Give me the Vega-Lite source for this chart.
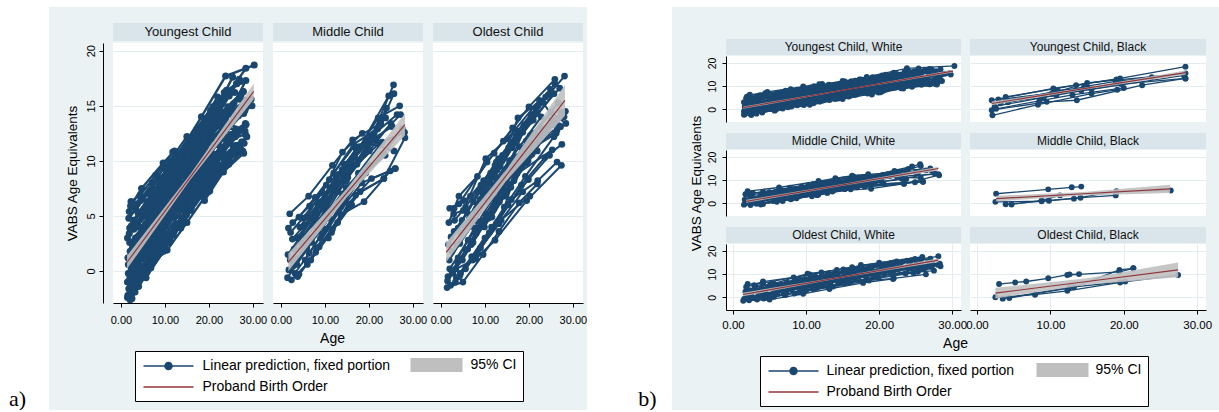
{
"$schema":"https://vega.github.io/schema/vega-lite/v6.json",
"background":"#eaf2f3",
"padding":0,
"spacing":0,
"config":{"font":"Liberation Sans","view":{"stroke":null},
 "axis":{"domainColor":"#000","tickColor":"#000","labelColor":"#000","titleColor":"#000","titleFontWeight":"normal","gridColor":"#e3ecee","labelFont":"Liberation Sans","titleFont":"Liberation Sans"},
 "text":{"font":"Liberation Sans"}},
"datasets":{
"leg":[{"k":"Linear prediction, fixed portion"},{"k":"95% CI"},{"k":"Proband Birth Order"}],
"fit":[
{"g":"Y","a":1.4,"v":0.8,"lo":0.2,"hi":1.4},{"g":"Y","a":15.8,"v":8.55,"lo":8.3,"hi":8.8},{"g":"Y","a":30.2,"v":16.3,"lo":15.6,"hi":17.0},
{"g":"M","a":1.7,"v":0.8,"lo":0.0,"hi":1.6},{"g":"M","a":15.0,"v":7.1,"lo":6.7,"hi":7.5},{"g":"M","a":28.2,"v":13.3,"lo":12.3,"hi":14.3},
{"g":"O","a":1.2,"v":1.7,"lo":0.8,"hi":2.6},{"g":"O","a":14.7,"v":8.6,"lo":8.1,"hi":9.1},{"g":"O","a":28.2,"v":15.5,"lo":14.1,"hi":16.9},
{"g":"YW","a":1.4,"v":0.7,"lo":0.2,"hi":1.2},{"g":"YW","a":15.7,"v":8.6,"lo":8.4,"hi":8.8},{"g":"YW","a":30.1,"v":16.5,"lo":15.9,"hi":17.1},
{"g":"YB","a":2.0,"v":2.5,"lo":1.7,"hi":3.3},{"g":"YB","a":15.2,"v":9.2,"lo":8.8,"hi":9.6},{"g":"YB","a":28.4,"v":15.8,"lo":14.9,"hi":16.7},
{"g":"MW","a":1.8,"v":0.85,"lo":0.2,"hi":1.5},{"g":"MW","a":15.0,"v":7.95,"lo":7.6,"hi":8.3},{"g":"MW","a":28.1,"v":15.0,"lo":14.2,"hi":15.8},
{"g":"MB","a":2.6,"v":2.0,"lo":0.8,"hi":3.2},{"g":"MB","a":14.5,"v":4.1,"lo":3.3,"hi":4.9},{"g":"MB","a":26.3,"v":6.2,"lo":4.4,"hi":8.0},
{"g":"OW","a":1.35,"v":1.2,"lo":0.4,"hi":2.0},{"g":"OW","a":14.7,"v":8.6,"lo":8.3,"hi":8.9},{"g":"OW","a":28.1,"v":16.0,"lo":15.2,"hi":16.8},
{"g":"OB","a":2.5,"v":1.8,"lo":-0.5,"hi":4.1},{"g":"OB","a":15.0,"v":6.8,"lo":5.4,"hi":8.2},{"g":"OB","a":27.4,"v":11.8,"lo":8.6,"hi":15.0}
],
"kids":[
{"g":"YW","i":1,"a":1.5,"v":-2.4},{"g":"YW","i":1,"a":5.2,"v":0.1},{"g":"YW","i":1,"a":9.8,"v":2.6},{"g":"YW","i":1,"a":14.1,"v":4.9},
{"g":"YW","i":2,"a":1.8,"v":-1.6},{"g":"YW","i":2,"a":4.6,"v":0.4},{"g":"YW","i":2,"a":8.9,"v":3.0},{"g":"YW","i":2,"a":13.5,"v":5.8},{"g":"YW","i":2,"a":18.2,"v":8.1},
{"g":"YW","i":3,"a":2.0,"v":-0.8},{"g":"YW","i":3,"a":6.1,"v":2.1},{"g":"YW","i":3,"a":10.4,"v":4.6},{"g":"YW","i":3,"a":15.2,"v":7.3},{"g":"YW","i":3,"a":20.1,"v":9.6},
{"g":"YW","i":4,"a":2.3,"v":0.3},{"g":"YW","i":4,"a":5.8,"v":2.9},{"g":"YW","i":4,"a":11.0,"v":6.1},{"g":"YW","i":4,"a":16.4,"v":9.2},{"g":"YW","i":4,"a":21.7,"v":11.8},
{"g":"YW","i":5,"a":1.6,"v":1.2},{"g":"YW","i":5,"a":4.9,"v":3.5},{"g":"YW","i":5,"a":9.1,"v":6.0},{"g":"YW","i":5,"a":13.8,"v":8.7},
{"g":"YW","i":6,"a":2.6,"v":2.1},{"g":"YW","i":6,"a":7.4,"v":5.0},{"g":"YW","i":6,"a":12.9,"v":8.4},{"g":"YW","i":6,"a":18.3,"v":11.3},{"g":"YW","i":6,"a":24.0,"v":14.2},
{"g":"YW","i":7,"a":1.9,"v":3.4},{"g":"YW","i":7,"a":5.5,"v":5.6},{"g":"YW","i":7,"a":10.2,"v":8.6},{"g":"YW","i":7,"a":15.6,"v":11.5},
{"g":"YW","i":8,"a":2.8,"v":4.6},{"g":"YW","i":8,"a":6.9,"v":6.9},{"g":"YW","i":8,"a":12.1,"v":10.2},{"g":"YW","i":8,"a":17.5,"v":12.9},{"g":"YW","i":8,"a":22.0,"v":15.8},
{"g":"YW","i":9,"a":2.2,"v":5.9},{"g":"YW","i":9,"a":4.7,"v":7.5},{"g":"YW","i":9,"a":9.6,"v":9.8},{"g":"YW","i":9,"a":12.2,"v":10.9},
{"g":"YW","i":10,"a":3.1,"v":-1.2},{"g":"YW","i":10,"a":7.8,"v":1.6},{"g":"YW","i":10,"a":12.6,"v":4.3},{"g":"YW","i":10,"a":17.9,"v":7.2},{"g":"YW","i":10,"a":23.5,"v":10.2},
{"g":"YW","i":11,"a":4.2,"v":-0.3},{"g":"YW","i":11,"a":9.3,"v":2.9},{"g":"YW","i":11,"a":14.8,"v":6.0},{"g":"YW","i":11,"a":20.7,"v":8.9},{"g":"YW","i":11,"a":26.9,"v":10.8},
{"g":"YW","i":12,"a":3.5,"v":1.5},{"g":"YW","i":12,"a":8.2,"v":4.3},{"g":"YW","i":12,"a":13.4,"v":7.6},{"g":"YW","i":12,"a":19.0,"v":10.6},{"g":"YW","i":12,"a":25.0,"v":12.4},
{"g":"YW","i":13,"a":4.8,"v":3.0},{"g":"YW","i":13,"a":9.9,"v":6.2},{"g":"YW","i":13,"a":15.1,"v":9.6},{"g":"YW","i":13,"a":20.6,"v":12.5},{"g":"YW","i":13,"a":25.7,"v":15.2},
{"g":"YW","i":14,"a":5.5,"v":5.0},{"g":"YW","i":14,"a":10.7,"v":8.3},{"g":"YW","i":14,"a":16.0,"v":11.7},{"g":"YW","i":14,"a":21.2,"v":14.3},{"g":"YW","i":14,"a":25.4,"v":17.6},
{"g":"YW","i":15,"a":3.9,"v":2.5},{"g":"YW","i":15,"a":8.6,"v":5.4},{"g":"YW","i":15,"a":13.0,"v":8.0},{"g":"YW","i":15,"a":18.8,"v":11.9},{"g":"YW","i":15,"a":23.1,"v":13.6},{"g":"YW","i":15,"a":28.2,"v":12.7},
{"g":"YW","i":16,"a":6.3,"v":1.4},{"g":"YW","i":16,"a":11.5,"v":4.9},{"g":"YW","i":16,"a":16.9,"v":8.3},{"g":"YW","i":16,"a":22.6,"v":11.3},{"g":"YW","i":16,"a":27.5,"v":11.7},
{"g":"YW","i":17,"a":7.2,"v":3.1},{"g":"YW","i":17,"a":12.4,"v":6.5},{"g":"YW","i":17,"a":17.2,"v":9.9},{"g":"YW","i":17,"a":22.9,"v":13.0},{"g":"YW","i":17,"a":28.4,"v":17.3},
{"g":"YW","i":18,"a":8.0,"v":1.2},{"g":"YW","i":18,"a":13.2,"v":4.0},{"g":"YW","i":18,"a":18.6,"v":7.4},{"g":"YW","i":18,"a":24.8,"v":11.7},
{"g":"YW","i":19,"a":2.4,"v":-2.0},{"g":"YW","i":19,"a":6.6,"v":0.5},{"g":"YW","i":19,"a":11.8,"v":3.4},{"g":"YW","i":19,"a":16.6,"v":6.2},
{"g":"YW","i":20,"a":1.7,"v":0.6},{"g":"YW","i":20,"a":3.8,"v":1.9},{"g":"YW","i":20,"a":8.4,"v":4.7},{"g":"YW","i":20,"a":12.8,"v":7.3},{"g":"YW","i":20,"a":17.6,"v":10.0},
{"g":"YW","i":21,"a":2.9,"v":3.8},{"g":"YW","i":21,"a":6.2,"v":5.9},{"g":"YW","i":21,"a":11.3,"v":9.0},{"g":"YW","i":21,"a":16.2,"v":12.1},{"g":"YW","i":21,"a":20.4,"v":14.6},{"g":"YW","i":21,"a":26.3,"v":17.0},
{"g":"YW","i":22,"a":5.1,"v":4.0},{"g":"YW","i":22,"a":9.4,"v":6.8},{"g":"YW","i":22,"a":14.5,"v":10.0},{"g":"YW","i":22,"a":19.6,"v":13.0},{"g":"YW","i":22,"a":24.6,"v":15.9},
{"g":"YW","i":23,"a":9.0,"v":6.6},{"g":"YW","i":23,"a":13.6,"v":9.5},{"g":"YW","i":23,"a":18.1,"v":12.6},{"g":"YW","i":23,"a":22.4,"v":14.9},
{"g":"YW","i":24,"a":10.1,"v":4.1},{"g":"YW","i":24,"a":15.4,"v":7.9},{"g":"YW","i":24,"a":20.3,"v":10.6},{"g":"YW","i":24,"a":25.0,"v":10.8},
{"g":"YW","i":25,"a":11.2,"v":7.3},{"g":"YW","i":25,"a":16.3,"v":10.6},{"g":"YW","i":25,"a":21.5,"v":13.9},{"g":"YW","i":25,"a":27.8,"v":16.3},
{"g":"YW","i":26,"a":12.3,"v":3.8},{"g":"YW","i":26,"a":17.0,"v":7.0},{"g":"YW","i":26,"a":22.1,"v":9.6},{"g":"YW","i":26,"a":26.9,"v":10.8},
{"g":"YW","i":27,"a":4.5,"v":6.4},{"g":"YW","i":27,"a":8.8,"v":8.4},{"g":"YW","i":27,"a":13.1,"v":10.6},{"g":"YW","i":27,"a":17.3,"v":12.9},
{"g":"YW","i":28,"a":6.8,"v":6.8},{"g":"YW","i":28,"a":12.0,"v":9.9},{"g":"YW","i":28,"a":18.3,"v":14.0},{"g":"YW","i":28,"a":23.8,"v":17.7},{"g":"YW","i":28,"a":30.3,"v":18.7},
{"g":"YW","i":29,"a":14.0,"v":5.6},{"g":"YW","i":29,"a":19.8,"v":8.8},{"g":"YW","i":29,"a":25.2,"v":12.0},{"g":"YW","i":29,"a":28.3,"v":12.4},
{"g":"YW","i":30,"a":13.9,"v":10.4},{"g":"YW","i":30,"a":18.9,"v":12.8},{"g":"YW","i":30,"a":24.3,"v":14.9},{"g":"YW","i":30,"a":27.8,"v":16.3},
{"g":"YW","i":31,"a":15.8,"v":6.6},{"g":"YW","i":31,"a":21.0,"v":9.9},{"g":"YW","i":31,"a":27.5,"v":11.7},
{"g":"YW","i":32,"a":16.5,"v":11.3},{"g":"YW","i":32,"a":21.9,"v":14.1},{"g":"YW","i":32,"a":26.3,"v":17.0},
{"g":"YW","i":33,"a":1.5,"v":-1.0},{"g":"YW","i":33,"a":3.3,"v":0.5},{"g":"YW","i":33,"a":6.0,"v":1.8},{"g":"YW","i":33,"a":10.6,"v":4.4},
{"g":"YW","i":34,"a":2.1,"v":1.8},{"g":"YW","i":34,"a":4.4,"v":2.8},{"g":"YW","i":34,"a":7.0,"v":4.4},{"g":"YW","i":34,"a":11.6,"v":7.1},{"g":"YW","i":34,"a":16.8,"v":10.5},
{"g":"YW","i":35,"a":3.0,"v":0.0},{"g":"YW","i":35,"a":5.0,"v":1.4},{"g":"YW","i":35,"a":9.5,"v":4.0},{"g":"YW","i":35,"a":14.3,"v":6.9},{"g":"YW","i":35,"a":19.3,"v":8.5},
{"g":"YW","i":36,"a":2.5,"v":-2.5},{"g":"YW","i":36,"a":4.0,"v":-1.4},{"g":"YW","i":36,"a":7.5,"v":0.9},{"g":"YW","i":36,"a":11.9,"v":3.3},
{"g":"YW","i":37,"a":7.6,"v":4.8},{"g":"YW","i":37,"a":12.7,"v":7.9},{"g":"YW","i":37,"a":17.8,"v":10.8},{"g":"YW","i":37,"a":23.6,"v":13.0},{"g":"YW","i":37,"a":28.0,"v":12.7},
{"g":"YW","i":38,"a":8.6,"v":2.3},{"g":"YW","i":38,"a":14.2,"v":5.8},{"g":"YW","i":38,"a":19.4,"v":9.3},{"g":"YW","i":38,"a":24.1,"v":11.7},
{"g":"YW","i":39,"a":10.5,"v":5.6},{"g":"YW","i":39,"a":15.0,"v":8.8},{"g":"YW","i":39,"a":20.0,"v":12.0},{"g":"YW","i":39,"a":25.5,"v":14.6},
{"g":"YW","i":40,"a":18.0,"v":9.3},{"g":"YW","i":40,"a":22.7,"v":12.0},{"g":"YW","i":40,"a":28.3,"v":13.4},
{"g":"YW","i":41,"a":20.2,"v":7.3},{"g":"YW","i":41,"a":24.5,"v":10.1},{"g":"YW","i":41,"a":27.2,"v":11.1},
{"g":"YW","i":42,"a":3.6,"v":4.0},{"g":"YW","i":42,"a":7.1,"v":6.0},{"g":"YW","i":42,"a":11.4,"v":8.9},{"g":"YW","i":42,"a":15.9,"v":11.0},{"g":"YW","i":42,"a":21.3,"v":13.3},
{"g":"YW","i":43,"a":5.9,"v":-0.1},{"g":"YW","i":43,"a":10.0,"v":2.6},{"g":"YW","i":43,"a":14.6,"v":5.2},{"g":"YW","i":43,"a":19.7,"v":8.0},{"g":"YW","i":43,"a":25.5,"v":11.3},
{"g":"YW","i":44,"a":1.8,"v":4.8},{"g":"YW","i":44,"a":3.4,"v":5.6},{"g":"YW","i":44,"a":6.5,"v":7.2},{"g":"YW","i":44,"a":9.7,"v":9.4},
{"g":"YW","i":45,"a":12.8,"v":9.4},{"g":"YW","i":45,"a":17.4,"v":12.6},{"g":"YW","i":45,"a":22.4,"v":15.2},{"g":"YW","i":45,"a":25.9,"v":16.2},
{"g":"YW","i":46,"a":2.7,"v":-0.4},{"g":"YW","i":46,"a":5.4,"v":1.5},{"g":"YW","i":46,"a":10.9,"v":5.0},{"g":"YW","i":46,"a":15.5,"v":7.6},{"g":"YW","i":46,"a":21.1,"v":10.6},{"g":"YW","i":46,"a":26.6,"v":12.6},
{"g":"YW","i":47,"a":3.3,"v":3.0},{"g":"YW","i":47,"a":8.0,"v":6.2},{"g":"YW","i":47,"a":12.5,"v":8.9},{"g":"YW","i":47,"a":19.3,"v":12.5},{"g":"YW","i":47,"a":24.9,"v":14.6},
{"g":"YW","i":48,"a":4.6,"v":1.1},{"g":"YW","i":48,"a":8.5,"v":3.3},{"g":"YW","i":48,"a":13.7,"v":6.4},{"g":"YW","i":48,"a":18.9,"v":9.3},{"g":"YW","i":48,"a":26.1,"v":12.9},
{"g":"YW","i":49,"a":6.0,"v":3.3},{"g":"YW","i":49,"a":10.3,"v":6.9},{"g":"YW","i":49,"a":15.3,"v":10.2},{"g":"YW","i":49,"a":20.8,"v":13.6},{"g":"YW","i":49,"a":27.0,"v":15.6},
{"g":"YW","i":50,"a":9.4,"v":2.2},{"g":"YW","i":50,"a":14.9,"v":5.1},{"g":"YW","i":50,"a":20.5,"v":7.9},{"g":"YW","i":50,"a":25.8,"v":10.6},
{"g":"YW","i":112,"a":1.6,"v":-2.2},{"g":"YW","i":112,"a":3.9,"v":-0.6},{"g":"YW","i":112,"a":8.1,"v":1.9},{"g":"YW","i":112,"a":12.2,"v":4.0},{"g":"YW","i":112,"a":16.9,"v":6.4},
{"g":"YW","i":113,"a":2.0,"v":2.6},{"g":"YW","i":113,"a":5.6,"v":4.3},{"g":"YW","i":113,"a":10.0,"v":7.0},{"g":"YW","i":113,"a":14.6,"v":9.8},{"g":"YW","i":113,"a":19.9,"v":12.8},{"g":"YW","i":113,"a":25.1,"v":14.2},
{"g":"YW","i":114,"a":2.4,"v":4.1},{"g":"YW","i":114,"a":6.0,"v":6.3},{"g":"YW","i":114,"a":10.6,"v":9.4},{"g":"YW","i":114,"a":15.3,"v":12.0},{"g":"YW","i":114,"a":20.9,"v":14.9},
{"g":"YW","i":115,"a":3.2,"v":-1.9},{"g":"YW","i":115,"a":6.8,"v":0.3},{"g":"YW","i":115,"a":11.1,"v":2.9},{"g":"YW","i":115,"a":15.9,"v":5.6},{"g":"YW","i":115,"a":20.6,"v":8.4},{"g":"YW","i":115,"a":26.2,"v":11.4},
{"g":"YW","i":116,"a":3.6,"v":0.7},{"g":"YW","i":116,"a":7.3,"v":3.2},{"g":"YW","i":116,"a":12.0,"v":6.0},{"g":"YW","i":116,"a":17.1,"v":9.0},{"g":"YW","i":116,"a":22.3,"v":12.1},{"g":"YW","i":116,"a":27.9,"v":14.3},
{"g":"YW","i":117,"a":4.1,"v":5.2},{"g":"YW","i":117,"a":7.7,"v":7.4},{"g":"YW","i":117,"a":12.3,"v":10.1},{"g":"YW","i":117,"a":16.7,"v":12.3},{"g":"YW","i":117,"a":21.8,"v":15.1},{"g":"YW","i":117,"a":26.9,"v":17.4},
{"g":"YW","i":118,"a":5.0,"v":2.0},{"g":"YW","i":118,"a":9.0,"v":4.7},{"g":"YW","i":118,"a":13.3,"v":7.3},{"g":"YW","i":118,"a":18.0,"v":10.0},{"g":"YW","i":118,"a":23.2,"v":12.7},{"g":"YW","i":118,"a":28.6,"v":15.1},
{"g":"YW","i":119,"a":5.7,"v":-0.6},{"g":"YW","i":119,"a":9.7,"v":1.8},{"g":"YW","i":119,"a":14.0,"v":4.4},{"g":"YW","i":119,"a":18.4,"v":6.8},{"g":"YW","i":119,"a":23.0,"v":9.1},{"g":"YW","i":119,"a":27.7,"v":10.9},
{"g":"YW","i":120,"a":6.4,"v":5.4},{"g":"YW","i":120,"a":10.8,"v":8.1},{"g":"YW","i":120,"a":15.7,"v":11.0},{"g":"YW","i":120,"a":20.0,"v":13.5},{"g":"YW","i":120,"a":24.8,"v":16.3},
{"g":"YW","i":121,"a":7.0,"v":2.0},{"g":"YW","i":121,"a":11.7,"v":5.3},{"g":"YW","i":121,"a":16.5,"v":8.0},{"g":"YW","i":121,"a":21.3,"v":10.3},{"g":"YW","i":121,"a":26.0,"v":12.2},
{"g":"YW","i":122,"a":8.3,"v":5.9},{"g":"YW","i":122,"a":12.9,"v":8.8},{"g":"YW","i":122,"a":17.7,"v":11.7},{"g":"YW","i":122,"a":22.5,"v":14.0},{"g":"YW","i":122,"a":27.3,"v":16.0},
{"g":"YW","i":123,"a":9.2,"v":3.6},{"g":"YW","i":123,"a":13.9,"v":6.6},{"g":"YW","i":123,"a":18.7,"v":9.8},{"g":"YW","i":123,"a":23.9,"v":12.9},{"g":"YW","i":123,"a":29.0,"v":15.3},
{"g":"YW","i":124,"a":10.4,"v":7.9},{"g":"YW","i":124,"a":14.7,"v":10.8},{"g":"YW","i":124,"a":19.1,"v":13.8},{"g":"YW","i":124,"a":23.5,"v":16.2},
{"g":"YW","i":125,"a":11.0,"v":2.6},{"g":"YW","i":125,"a":15.8,"v":5.5},{"g":"YW","i":125,"a":20.9,"v":8.4},{"g":"YW","i":125,"a":26.4,"v":11.0},
{"g":"YW","i":126,"a":11.9,"v":6.3},{"g":"YW","i":126,"a":16.1,"v":9.2},{"g":"YW","i":126,"a":21.0,"v":12.2},{"g":"YW","i":126,"a":25.6,"v":13.9},{"g":"YW","i":126,"a":29.6,"v":15.6},
{"g":"YW","i":127,"a":13.3,"v":7.0},{"g":"YW","i":127,"a":17.6,"v":9.6},{"g":"YW","i":127,"a":22.8,"v":12.5},{"g":"YW","i":127,"a":27.4,"v":14.8},
{"g":"YW","i":128,"a":14.4,"v":4.6},{"g":"YW","i":128,"a":18.9,"v":7.3},{"g":"YW","i":128,"a":23.7,"v":10.0},{"g":"YW","i":128,"a":28.0,"v":11.6},
{"g":"YW","i":129,"a":15.1,"v":10.9},{"g":"YW","i":129,"a":19.5,"v":13.6},{"g":"YW","i":129,"a":24.0,"v":16.4},{"g":"YW","i":129,"a":27.2,"v":17.2},
{"g":"YW","i":130,"a":17.0,"v":8.2},{"g":"YW","i":130,"a":21.7,"v":11.5},{"g":"YW","i":130,"a":26.7,"v":14.1},{"g":"YW","i":130,"a":29.8,"v":15.0},
{"g":"YW","i":131,"a":19.0,"v":6.4},{"g":"YW","i":131,"a":23.3,"v":9.0},{"g":"YW","i":131,"a":27.9,"v":10.7},
{"g":"YW","i":132,"a":1.5,"v":3.0},{"g":"YW","i":132,"a":3.0,"v":3.9},{"g":"YW","i":132,"a":5.9,"v":5.5},{"g":"YW","i":132,"a":9.3,"v":7.8},{"g":"YW","i":132,"a":13.4,"v":10.3},
{"g":"YW","i":133,"a":1.7,"v":-0.2},{"g":"YW","i":133,"a":3.5,"v":0.9},{"g":"YW","i":133,"a":6.4,"v":3.0},{"g":"YW","i":133,"a":10.1,"v":5.2},{"g":"YW","i":133,"a":14.4,"v":7.9},
{"g":"YW","i":134,"a":2.2,"v":-1.3},{"g":"YW","i":134,"a":4.3,"v":0.0},{"g":"YW","i":134,"a":7.9,"v":2.3},{"g":"YW","i":134,"a":12.1,"v":5.0},{"g":"YW","i":134,"a":16.2,"v":7.3},{"g":"YW","i":134,"a":21.5,"v":10.3},
{"g":"YW","i":135,"a":2.6,"v":0.9},{"g":"YW","i":135,"a":4.8,"v":2.3},{"g":"YW","i":135,"a":8.3,"v":4.9},{"g":"YW","i":135,"a":12.4,"v":7.6},{"g":"YW","i":135,"a":16.0,"v":9.6},
{"g":"YW","i":136,"a":3.0,"v":1.9},{"g":"YW","i":136,"a":6.3,"v":4.0},{"g":"YW","i":136,"a":9.9,"v":6.4},{"g":"YW","i":136,"a":14.2,"v":9.1},{"g":"YW","i":136,"a":18.6,"v":11.6},{"g":"YW","i":136,"a":23.4,"v":14.4},
{"g":"YW","i":137,"a":4.0,"v":-1.0},{"g":"YW","i":137,"a":8.8,"v":1.7},{"g":"YW","i":137,"a":13.8,"v":4.8},{"g":"YW","i":137,"a":19.1,"v":7.8},
{"g":"YW","i":138,"a":1.9,"v":5.4},{"g":"YW","i":138,"a":3.7,"v":6.1},{"g":"YW","i":138,"a":7.2,"v":8.0},{"g":"YW","i":138,"a":11.1,"v":10.0},{"g":"YW","i":138,"a":15.0,"v":12.2},
{"g":"YW","i":139,"a":2.3,"v":6.3},{"g":"YW","i":139,"a":4.4,"v":6.9},{"g":"YW","i":139,"a":7.9,"v":8.7},{"g":"YW","i":139,"a":11.8,"v":10.8},
{"g":"YW","i":140,"a":6.6,"v":0.5},{"g":"YW","i":140,"a":10.5,"v":1.9},{"g":"YW","i":140,"a":15.0,"v":4.4},{"g":"YW","i":140,"a":19.9,"v":7.2},{"g":"YW","i":140,"a":24.5,"v":9.7},
{"g":"YW","i":141,"a":16.0,"v":5.8},{"g":"YW","i":141,"a":20.1,"v":8.0},{"g":"YW","i":141,"a":24.2,"v":10.3},{"g":"YW","i":141,"a":28.6,"v":12.2},
{"g":"YB","i":51,"a":2.0,"v":3.9},{"g":"YB","i":51,"a":10.4,"v":9.0},{"g":"YB","i":51,"a":19.5,"v":13.3},{"g":"YB","i":51,"a":28.4,"v":18.4},
{"g":"YB","i":52,"a":2.9,"v":4.2},{"g":"YB","i":52,"a":10.4,"v":7.1},{"g":"YB","i":52,"a":15.0,"v":11.4},{"g":"YB","i":52,"a":28.4,"v":15.5},
{"g":"YB","i":53,"a":3.9,"v":5.3},{"g":"YB","i":53,"a":13.5,"v":10.4},{"g":"YB","i":53,"a":19.0,"v":12.9},
{"g":"YB","i":54,"a":2.0,"v":-0.4},{"g":"YB","i":54,"a":9.5,"v":3.2},{"g":"YB","i":54,"a":13.6,"v":3.9},{"g":"YB","i":54,"a":22.5,"v":10.4},{"g":"YB","i":54,"a":28.4,"v":13.3},
{"g":"YB","i":55,"a":2.1,"v":-2.6},{"g":"YB","i":55,"a":8.3,"v":2.0},{"g":"YB","i":55,"a":15.6,"v":6.8},{"g":"YB","i":55,"a":19.1,"v":8.4},
{"g":"YB","i":56,"a":3.9,"v":4.2},{"g":"YB","i":56,"a":10.2,"v":6.8},{"g":"YB","i":56,"a":15.6,"v":8.6},{"g":"YB","i":56,"a":28.2,"v":14.6},
{"g":"YB","i":57,"a":2.4,"v":1.2},{"g":"YB","i":57,"a":9.1,"v":5.1},{"g":"YB","i":57,"a":14.2,"v":8.0},{"g":"YB","i":57,"a":19.6,"v":10.9},{"g":"YB","i":57,"a":28.4,"v":13.3},
{"g":"YB","i":58,"a":3.2,"v":2.6},{"g":"YB","i":58,"a":11.0,"v":8.0},{"g":"YB","i":58,"a":15.0,"v":9.6},
{"g":"YB","i":59,"a":2.6,"v":0.2},{"g":"YB","i":59,"a":8.5,"v":3.6},{"g":"YB","i":59,"a":13.0,"v":6.2},{"g":"YB","i":59,"a":20.0,"v":9.2},
{"g":"YB","i":60,"a":4.2,"v":3.0},{"g":"YB","i":60,"a":10.8,"v":6.0},{"g":"YB","i":60,"a":14.6,"v":9.8},{"g":"YB","i":60,"a":18.9,"v":12.0},{"g":"YB","i":60,"a":23.8,"v":13.8},
{"g":"MW","i":61,"a":1.8,"v":0.1},{"g":"MW","i":61,"a":5.6,"v":2.4},{"g":"MW","i":61,"a":10.2,"v":5.0},{"g":"MW","i":61,"a":14.8,"v":7.6},{"g":"MW","i":61,"a":19.5,"v":9.5},
{"g":"MW","i":62,"a":2.0,"v":5.2},{"g":"MW","i":62,"a":6.3,"v":6.8},{"g":"MW","i":62,"a":11.7,"v":9.6},{"g":"MW","i":62,"a":16.3,"v":11.9},{"g":"MW","i":62,"a":22.7,"v":13.4},{"g":"MW","i":62,"a":25.7,"v":16.1},
{"g":"MW","i":63,"a":2.4,"v":-0.8},{"g":"MW","i":63,"a":6.8,"v":1.0},{"g":"MW","i":63,"a":11.5,"v":3.5},{"g":"MW","i":63,"a":16.1,"v":6.0},
{"g":"MW","i":64,"a":3.0,"v":2.0},{"g":"MW","i":64,"a":7.5,"v":4.6},{"g":"MW","i":64,"a":12.1,"v":7.2},{"g":"MW","i":64,"a":18.9,"v":10.6},{"g":"MW","i":64,"a":24.0,"v":14.8},
{"g":"MW","i":65,"a":2.2,"v":3.5},{"g":"MW","i":65,"a":5.0,"v":4.8},{"g":"MW","i":65,"a":9.4,"v":7.1},{"g":"MW","i":65,"a":14.0,"v":10.8},{"g":"MW","i":65,"a":18.5,"v":12.5},
{"g":"MW","i":66,"a":4.1,"v":-0.3},{"g":"MW","i":66,"a":8.7,"v":2.2},{"g":"MW","i":66,"a":13.6,"v":5.1},{"g":"MW","i":66,"a":18.9,"v":6.3},{"g":"MW","i":66,"a":24.9,"v":9.1},
{"g":"MW","i":67,"a":3.4,"v":1.1},{"g":"MW","i":67,"a":9.0,"v":4.2},{"g":"MW","i":67,"a":14.4,"v":9.7},{"g":"MW","i":67,"a":20.5,"v":12.2},{"g":"MW","i":67,"a":26.4,"v":14.2},
{"g":"MW","i":68,"a":5.2,"v":3.2},{"g":"MW","i":68,"a":10.6,"v":6.5},{"g":"MW","i":68,"a":15.9,"v":9.4},{"g":"MW","i":68,"a":21.5,"v":11.9},{"g":"MW","i":68,"a":27.2,"v":14.2},
{"g":"MW","i":69,"a":6.0,"v":0.6},{"g":"MW","i":69,"a":11.7,"v":3.8},{"g":"MW","i":69,"a":17.0,"v":6.9},{"g":"MW","i":69,"a":23.4,"v":8.4},{"g":"MW","i":69,"a":28.2,"v":12.1},
{"g":"MW","i":70,"a":7.2,"v":4.1},{"g":"MW","i":70,"a":12.3,"v":7.5},{"g":"MW","i":70,"a":16.8,"v":10.3},{"g":"MW","i":70,"a":22.7,"v":13.4},
{"g":"MW","i":71,"a":8.1,"v":2.1},{"g":"MW","i":71,"a":13.2,"v":5.4},{"g":"MW","i":71,"a":18.4,"v":8.0},{"g":"MW","i":71,"a":26.0,"v":9.3},
{"g":"MW","i":72,"a":1.6,"v":1.5},{"g":"MW","i":72,"a":4.4,"v":3.1},{"g":"MW","i":72,"a":8.0,"v":5.3},{"g":"MW","i":72,"a":11.7,"v":7.2},
{"g":"MW","i":73,"a":9.6,"v":5.6},{"g":"MW","i":73,"a":14.4,"v":8.4},{"g":"MW","i":73,"a":20.0,"v":11.6},{"g":"MW","i":73,"a":25.7,"v":10.9},
{"g":"MW","i":74,"a":2.7,"v":4.4},{"g":"MW","i":74,"a":6.5,"v":5.9},{"g":"MW","i":74,"a":10.3,"v":7.8},{"g":"MW","i":74,"a":13.9,"v":9.2},
{"g":"MW","i":75,"a":10.8,"v":3.0},{"g":"MW","i":75,"a":15.3,"v":6.1},{"g":"MW","i":75,"a":20.6,"v":8.4},{"g":"MW","i":75,"a":26.0,"v":9.3},
{"g":"MW","i":76,"a":12.5,"v":5.8},{"g":"MW","i":76,"a":17.6,"v":8.9},{"g":"MW","i":76,"a":23.0,"v":11.7},{"g":"MW","i":76,"a":28.1,"v":12.6},
{"g":"MW","i":77,"a":3.8,"v":-0.5},{"g":"MW","i":77,"a":7.9,"v":1.7},{"g":"MW","i":77,"a":12.9,"v":4.4},{"g":"MW","i":77,"a":18.0,"v":7.2},{"g":"MW","i":77,"a":23.4,"v":8.4},
{"g":"MW","i":78,"a":4.6,"v":2.7},{"g":"MW","i":78,"a":9.9,"v":6.0},{"g":"MW","i":78,"a":16.0,"v":9.9},{"g":"MW","i":78,"a":24.5,"v":15.9},
{"g":"MW","i":79,"a":14.9,"v":8.2},{"g":"MW","i":79,"a":19.8,"v":11.4},{"g":"MW","i":79,"a":25.6,"v":16.9},
{"g":"MW","i":80,"a":5.8,"v":4.9},{"g":"MW","i":80,"a":11.0,"v":8.3},{"g":"MW","i":80,"a":16.5,"v":11.5},{"g":"MW","i":80,"a":22.0,"v":12.9},
{"g":"MW","i":142,"a":1.5,"v":-0.6},{"g":"MW","i":142,"a":3.6,"v":0.6},{"g":"MW","i":142,"a":7.0,"v":2.6},{"g":"MW","i":142,"a":10.9,"v":4.8},{"g":"MW","i":142,"a":15.5,"v":7.3},{"g":"MW","i":142,"a":20.3,"v":9.6},
{"g":"MW","i":143,"a":2.1,"v":1.0},{"g":"MW","i":143,"a":4.8,"v":2.5},{"g":"MW","i":143,"a":8.5,"v":4.6},{"g":"MW","i":143,"a":12.8,"v":7.2},{"g":"MW","i":143,"a":17.3,"v":9.7},{"g":"MW","i":143,"a":22.4,"v":11.6},
{"g":"MW","i":144,"a":2.6,"v":2.9},{"g":"MW","i":144,"a":5.4,"v":4.2},{"g":"MW","i":144,"a":9.1,"v":6.3},{"g":"MW","i":144,"a":13.3,"v":8.8},{"g":"MW","i":144,"a":17.8,"v":11.3},{"g":"MW","i":144,"a":23.8,"v":13.9},
{"g":"MW","i":145,"a":3.2,"v":-0.2},{"g":"MW","i":145,"a":6.4,"v":1.6},{"g":"MW","i":145,"a":10.1,"v":3.8},{"g":"MW","i":145,"a":14.6,"v":6.6},{"g":"MW","i":145,"a":19.3,"v":8.9},
{"g":"MW","i":146,"a":1.7,"v":3.9},{"g":"MW","i":146,"a":4.1,"v":4.9},{"g":"MW","i":146,"a":7.8,"v":6.7},{"g":"MW","i":146,"a":12.0,"v":8.9},{"g":"MW","i":146,"a":16.6,"v":11.3},
{"g":"MW","i":147,"a":5.5,"v":1.0},{"g":"MW","i":147,"a":9.3,"v":3.4},{"g":"MW","i":147,"a":13.9,"v":6.0},{"g":"MW","i":147,"a":18.6,"v":8.7},{"g":"MW","i":147,"a":23.7,"v":10.5},
{"g":"MW","i":148,"a":6.6,"v":3.0},{"g":"MW","i":148,"a":10.9,"v":5.7},{"g":"MW","i":148,"a":15.2,"v":8.5},{"g":"MW","i":148,"a":20.1,"v":10.9},{"g":"MW","i":148,"a":25.0,"v":13.4},
{"g":"MW","i":149,"a":2.9,"v":0.5},{"g":"MW","i":149,"a":5.9,"v":2.1},{"g":"MW","i":149,"a":9.7,"v":4.5},{"g":"MW","i":149,"a":14.0,"v":7.0},
{"g":"MW","i":150,"a":4.3,"v":4.0},{"g":"MW","i":150,"a":8.4,"v":6.1},{"g":"MW","i":150,"a":12.6,"v":8.6},{"g":"MW","i":150,"a":17.1,"v":11.1},{"g":"MW","i":150,"a":21.2,"v":12.5},
{"g":"MW","i":151,"a":7.8,"v":5.3},{"g":"MW","i":151,"a":12.4,"v":8.0},{"g":"MW","i":151,"a":17.3,"v":10.9},{"g":"MW","i":151,"a":22.1,"v":13.9},{"g":"MW","i":151,"a":27.0,"v":15.0},
{"g":"MW","i":152,"a":3.7,"v":3.0},{"g":"MW","i":152,"a":7.1,"v":4.9},{"g":"MW","i":152,"a":11.4,"v":7.5},{"g":"MW","i":152,"a":15.7,"v":9.9},{"g":"MW","i":152,"a":20.9,"v":12.0},{"g":"MW","i":152,"a":25.3,"v":13.1},
{"g":"MW","i":153,"a":9.0,"v":3.0},{"g":"MW","i":153,"a":13.6,"v":5.8},{"g":"MW","i":153,"a":18.2,"v":8.4},{"g":"MW","i":153,"a":23.1,"v":10.6},{"g":"MW","i":153,"a":27.6,"v":12.9},
{"g":"MB","i":81,"a":2.6,"v":4.1},{"g":"MB","i":81,"a":9.7,"v":6.0},{"g":"MB","i":81,"a":12.9,"v":6.9},{"g":"MB","i":81,"a":14.2,"v":7.2},
{"g":"MB","i":82,"a":2.5,"v":0.6},{"g":"MB","i":82,"a":8.8,"v":0.9},{"g":"MB","i":82,"a":13.2,"v":2.0},{"g":"MB","i":82,"a":19.0,"v":5.2},{"g":"MB","i":82,"a":26.4,"v":5.5},
{"g":"MB","i":83,"a":3.9,"v":-0.4},{"g":"MB","i":83,"a":9.8,"v":1.1},{"g":"MB","i":83,"a":14.1,"v":2.4},{"g":"MB","i":83,"a":18.9,"v":3.4},
{"g":"MB","i":84,"a":4.7,"v":-0.5},{"g":"MB","i":84,"a":8.8,"v":1.2},{"g":"MB","i":84,"a":11.3,"v":3.4},
{"g":"OW","i":85,"a":1.4,"v":-1.5},{"g":"OW","i":85,"a":5.0,"v":-1.0},{"g":"OW","i":85,"a":9.6,"v":1.5},{"g":"OW","i":85,"a":13.2,"v":3.6},{"g":"OW","i":85,"a":17.8,"v":6.2},{"g":"OW","i":85,"a":21.9,"v":7.9},
{"g":"OW","i":86,"a":2.0,"v":5.7},{"g":"OW","i":86,"a":4.1,"v":6.1},{"g":"OW","i":86,"a":10.5,"v":9.9},{"g":"OW","i":86,"a":14.2,"v":11.8},{"g":"OW","i":86,"a":20.0,"v":14.9},{"g":"OW","i":86,"a":25.9,"v":17.4},
{"g":"OW","i":87,"a":1.8,"v":4.4},{"g":"OW","i":87,"a":4.1,"v":6.8},{"g":"OW","i":87,"a":8.3,"v":8.6},{"g":"OW","i":87,"a":12.1,"v":10.7},{"g":"OW","i":87,"a":16.3,"v":13.0},
{"g":"OW","i":88,"a":2.0,"v":0.2},{"g":"OW","i":88,"a":6.2,"v":2.8},{"g":"OW","i":88,"a":10.2,"v":5.2},{"g":"OW","i":88,"a":14.8,"v":8.0},{"g":"OW","i":88,"a":19.6,"v":10.9},{"g":"OW","i":88,"a":26.4,"v":12.8},
{"g":"OW","i":89,"a":2.9,"v":5.2},{"g":"OW","i":89,"a":5.1,"v":5.5},{"g":"OW","i":89,"a":10.2,"v":10.2},{"g":"OW","i":89,"a":15.1,"v":12.0},{"g":"OW","i":89,"a":22.4,"v":15.5},
{"g":"OW","i":90,"a":3.3,"v":-1.0},{"g":"OW","i":90,"a":7.0,"v":1.3},{"g":"OW","i":90,"a":11.5,"v":4.0},{"g":"OW","i":90,"a":16.0,"v":6.5},{"g":"OW","i":90,"a":22.0,"v":8.2},{"g":"OW","i":90,"a":26.4,"v":9.9},
{"g":"OW","i":91,"a":2.5,"v":1.8},{"g":"OW","i":91,"a":6.6,"v":4.3},{"g":"OW","i":91,"a":11.0,"v":7.2},{"g":"OW","i":91,"a":15.6,"v":9.9},{"g":"OW","i":91,"a":20.6,"v":14.2},{"g":"OW","i":91,"a":28.1,"v":17.7},
{"g":"OW","i":92,"a":4.5,"v":3.4},{"g":"OW","i":92,"a":8.9,"v":6.5},{"g":"OW","i":92,"a":13.5,"v":9.5},{"g":"OW","i":92,"a":17.5,"v":13.9},{"g":"OW","i":92,"a":24.4,"v":16.0},
{"g":"OW","i":93,"a":1.6,"v":-0.5},{"g":"OW","i":93,"a":3.8,"v":0.8},{"g":"OW","i":93,"a":8.0,"v":3.4},{"g":"OW","i":93,"a":12.4,"v":6.1},{"g":"OW","i":93,"a":17.2,"v":8.8},{"g":"OW","i":93,"a":25.3,"v":11.0},
{"g":"OW","i":94,"a":5.6,"v":0.2},{"g":"OW","i":94,"a":10.0,"v":3.0},{"g":"OW","i":94,"a":14.4,"v":5.8},{"g":"OW","i":94,"a":19.2,"v":8.6},{"g":"OW","i":94,"a":25.7,"v":12.2},
{"g":"OW","i":95,"a":3.6,"v":2.4},{"g":"OW","i":95,"a":7.8,"v":5.3},{"g":"OW","i":95,"a":12.6,"v":8.4},{"g":"OW","i":95,"a":17.9,"v":11.3},{"g":"OW","i":95,"a":22.8,"v":14.0},
{"g":"OW","i":96,"a":6.5,"v":4.8},{"g":"OW","i":96,"a":11.2,"v":8.0},{"g":"OW","i":96,"a":16.1,"v":11.2},{"g":"OW","i":96,"a":21.0,"v":13.7},{"g":"OW","i":96,"a":25.7,"v":16.1},
{"g":"OW","i":97,"a":8.4,"v":1.6},{"g":"OW","i":97,"a":13.0,"v":4.5},{"g":"OW","i":97,"a":18.3,"v":7.8},{"g":"OW","i":97,"a":23.6,"v":10.3},{"g":"OW","i":97,"a":27.5,"v":11.5},
{"g":"OW","i":98,"a":9.2,"v":7.2},{"g":"OW","i":98,"a":13.8,"v":10.1},{"g":"OW","i":98,"a":18.6,"v":12.6},{"g":"OW","i":98,"a":23.2,"v":15.3},{"g":"OW","i":98,"a":26.8,"v":13.2},
{"g":"OW","i":99,"a":11.6,"v":4.9},{"g":"OW","i":99,"a":16.6,"v":8.2},{"g":"OW","i":99,"a":21.4,"v":11.3},{"g":"OW","i":99,"a":26.2,"v":12.5},
{"g":"OW","i":100,"a":2.2,"v":-1.3},{"g":"OW","i":100,"a":4.4,"v":-0.2},{"g":"OW","i":100,"a":9.0,"v":2.1},{"g":"OW","i":100,"a":13.7,"v":4.6},{"g":"OW","i":100,"a":18.6,"v":7.2},
{"g":"OW","i":101,"a":3.0,"v":3.6},{"g":"OW","i":101,"a":6.0,"v":5.3},{"g":"OW","i":101,"a":9.8,"v":7.9},{"g":"OW","i":101,"a":14.0,"v":10.5},{"g":"OW","i":101,"a":18.8,"v":13.1},
{"g":"OW","i":102,"a":12.8,"v":9.2},{"g":"OW","i":102,"a":17.0,"v":11.7},{"g":"OW","i":102,"a":21.6,"v":14.8},{"g":"OW","i":102,"a":25.9,"v":17.0},
{"g":"OW","i":103,"a":14.6,"v":6.8},{"g":"OW","i":103,"a":19.4,"v":9.8},{"g":"OW","i":103,"a":24.0,"v":12.4},{"g":"OW","i":103,"a":27.2,"v":13.1},
{"g":"OW","i":104,"a":7.3,"v":2.6},{"g":"OW","i":104,"a":12.0,"v":5.6},{"g":"OW","i":104,"a":16.8,"v":8.5},{"g":"OW","i":104,"a":21.9,"v":10.9},
{"g":"OW","i":105,"a":4.9,"v":1.0},{"g":"OW","i":105,"a":9.4,"v":4.1},{"g":"OW","i":105,"a":13.9,"v":7.4},{"g":"OW","i":105,"a":18.0,"v":10.2},{"g":"OW","i":105,"a":22.5,"v":12.0},
{"g":"OW","i":106,"a":10.7,"v":6.3},{"g":"OW","i":106,"a":15.4,"v":9.3},{"g":"OW","i":106,"a":20.3,"v":12.3},{"g":"OW","i":106,"a":25.1,"v":14.4},{"g":"OW","i":106,"a":28.4,"v":13.4},
{"g":"OW","i":154,"a":1.5,"v":-0.9},{"g":"OW","i":154,"a":3.4,"v":0.2},{"g":"OW","i":154,"a":6.9,"v":2.4},{"g":"OW","i":154,"a":10.8,"v":4.8},{"g":"OW","i":154,"a":15.1,"v":7.4},{"g":"OW","i":154,"a":19.8,"v":10.0},
{"g":"OW","i":155,"a":1.7,"v":2.4},{"g":"OW","i":155,"a":3.9,"v":3.9},{"g":"OW","i":155,"a":7.4,"v":6.3},{"g":"OW","i":155,"a":11.3,"v":8.9},{"g":"OW","i":155,"a":15.4,"v":11.2},{"g":"OW","i":155,"a":20.3,"v":13.6},
{"g":"OW","i":156,"a":2.3,"v":3.1},{"g":"OW","i":156,"a":4.8,"v":4.6},{"g":"OW","i":156,"a":8.6,"v":7.3},{"g":"OW","i":156,"a":12.9,"v":9.9},{"g":"OW","i":156,"a":17.4,"v":12.7},{"g":"OW","i":156,"a":22.0,"v":15.0},
{"g":"OW","i":157,"a":2.7,"v":-0.2},{"g":"OW","i":157,"a":5.6,"v":1.9},{"g":"OW","i":157,"a":9.2,"v":4.5},{"g":"OW","i":157,"a":13.4,"v":7.3},{"g":"OW","i":157,"a":17.9,"v":10.0},{"g":"OW","i":157,"a":23.0,"v":12.9},
{"g":"OW","i":158,"a":3.9,"v":1.2},{"g":"OW","i":158,"a":7.6,"v":3.9},{"g":"OW","i":158,"a":11.8,"v":6.6},{"g":"OW","i":158,"a":16.4,"v":9.6},{"g":"OW","i":158,"a":21.2,"v":12.5},{"g":"OW","i":158,"a":26.7,"v":15.3},
{"g":"OW","i":159,"a":1.9,"v":1.0},{"g":"OW","i":159,"a":4.3,"v":2.5},{"g":"OW","i":159,"a":7.9,"v":4.6},{"g":"OW","i":159,"a":12.0,"v":7.4},{"g":"OW","i":159,"a":16.7,"v":10.3},
{"g":"OW","i":160,"a":5.3,"v":4.1},{"g":"OW","i":160,"a":9.5,"v":7.2},{"g":"OW","i":160,"a":14.3,"v":10.3},{"g":"OW","i":160,"a":19.0,"v":13.3},{"g":"OW","i":160,"a":23.8,"v":15.8},
{"g":"OW","i":161,"a":6.1,"v":2.0},{"g":"OW","i":161,"a":10.4,"v":4.9},{"g":"OW","i":161,"a":15.0,"v":8.0},{"g":"OW","i":161,"a":20.1,"v":11.0},{"g":"OW","i":161,"a":25.1,"v":13.7},
{"g":"OW","i":162,"a":8.0,"v":5.6},{"g":"OW","i":162,"a":12.3,"v":8.6},{"g":"OW","i":162,"a":16.9,"v":11.6},{"g":"OW","i":162,"a":21.9,"v":14.3},{"g":"OW","i":162,"a":27.0,"v":16.6},
{"g":"OW","i":163,"a":9.9,"v":4.0},{"g":"OW","i":163,"a":14.5,"v":7.1},{"g":"OW","i":163,"a":19.3,"v":10.3},{"g":"OW","i":163,"a":24.2,"v":13.0},{"g":"OW","i":163,"a":28.3,"v":14.5},
{"g":"OW","i":164,"a":11.1,"v":8.5},{"g":"OW","i":164,"a":15.8,"v":11.4},{"g":"OW","i":164,"a":20.5,"v":14.0},{"g":"OW","i":164,"a":24.9,"v":16.5},
{"g":"OW","i":165,"a":13.3,"v":6.3},{"g":"OW","i":165,"a":18.0,"v":9.4},{"g":"OW","i":165,"a":22.7,"v":12.2},{"g":"OW","i":165,"a":27.3,"v":14.4},
{"g":"OW","i":166,"a":3.1,"v":4.6},{"g":"OW","i":166,"a":5.6,"v":5.8},{"g":"OW","i":166,"a":9.1,"v":7.8},{"g":"OW","i":166,"a":13.1,"v":10.2},{"g":"OW","i":166,"a":17.0,"v":12.3},
{"g":"OW","i":167,"a":15.9,"v":7.6},{"g":"OW","i":167,"a":20.7,"v":10.6},{"g":"OW","i":167,"a":25.4,"v":13.3},{"g":"OW","i":167,"a":28.0,"v":14.0},
{"g":"OW","i":168,"a":4.2,"v":-0.5},{"g":"OW","i":168,"a":7.2,"v":1.0},{"g":"OW","i":168,"a":11.0,"v":3.5},{"g":"OW","i":168,"a":15.3,"v":6.0},{"g":"OW","i":168,"a":19.9,"v":8.3},{"g":"OW","i":168,"a":24.7,"v":10.5},
{"g":"OB","i":107,"a":3.0,"v":5.7},{"g":"OB","i":107,"a":5.2,"v":6.4},{"g":"OB","i":107,"a":6.7,"v":6.8},{"g":"OB","i":107,"a":9.7,"v":8.2},{"g":"OB","i":107,"a":12.6,"v":9.9},{"g":"OB","i":107,"a":13.9,"v":10.0},
{"g":"OB","i":108,"a":2.5,"v":0.0},{"g":"OB","i":108,"a":7.9,"v":1.1},{"g":"OB","i":108,"a":12.3,"v":2.8},{"g":"OB","i":108,"a":19.5,"v":6.4},{"g":"OB","i":108,"a":27.4,"v":9.6},
{"g":"OB","i":109,"a":3.5,"v":-0.6},{"g":"OB","i":109,"a":12.6,"v":4.3},{"g":"OB","i":109,"a":20.2,"v":6.8},
{"g":"OB","i":110,"a":4.4,"v":-0.3},{"g":"OB","i":110,"a":13.2,"v":4.3},{"g":"OB","i":110,"a":19.4,"v":11.8},{"g":"OB","i":110,"a":21.3,"v":12.5},
{"g":"OB","i":111,"a":12.3,"v":9.6},{"g":"OB","i":111,"a":19.4,"v":11.0},{"g":"OB","i":111,"a":21.3,"v":12.5}
]},
"resolve":{"scale":{"stroke":"independent","shape":"independent"}},
"vconcat":[
{"width":1219,"height":7,"view":{"fill":"white","stroke":null},"data":{"values":[]},"mark":"point"},
{"spacing":0,
 "resolve":{"scale":{"stroke":"independent","shape":"independent"}},
 "hconcat":[
 {"width":49,"height":403,"view":{"fill":"white","stroke":null},"data":{"values":[{"t":"a)"}]},"mark":{"type":"text","font":"Liberation Serif","fontSize":22,"color":"#000","dx":-7,"dy":190},"encoding":{"text":{"field":"t"}}},
 {"columns":4,"align":"each","bounds":"flush","spacing":{"row":2,"column":10},
  "resolve":{"scale":{"stroke":"independent","shape":"independent"}},
  "concat":[
   {"width":54,"height":14,"data":{"values":[]},"mark":"point"},
   {"width":150,"height":14,"data":{"values":[]},"mark":"point"},
   {"width":150,"height":14,"data":{"values":[]},"mark":"point"},
   {"width":150,"height":14,"data":{"values":[]},"mark":"point"},
   {"width":54,"height":18,"data":{"values":[]},"mark":"point"},
   {"width":150,"height":18,"view":{"fill":"#d9e5ea","stroke":null},"data":{"values":[{"h":"Youngest Child"}]},"mark":{"type":"text","fontSize":13,"color":"#111"},"encoding":{"text":{"field":"h"}}},
   {"width":150,"height":18,"view":{"fill":"#d9e5ea","stroke":null},"data":{"values":[{"h":"Middle Child"}]},"mark":{"type":"text","fontSize":13,"color":"#111"},"encoding":{"text":{"field":"h"}}},
   {"width":150,"height":18,"view":{"fill":"#d9e5ea","stroke":null},"data":{"values":[{"h":"Oldest Child"}]},"mark":{"type":"text","fontSize":13,"color":"#111"},"encoding":{"text":{"field":"h"}}},
   {"width":54,"height":260,"data":{"values":[]},"mark":"point"},
   {"width":150,"height":260,"view":{"fill":"white","stroke":null},
    "encoding":{"x":{"field":"a","type":"quantitative","scale":{"domain":[-1.8,32.3],"nice":false,"zero":false},"axis":{"values":[0,10,20,30],"format":".2f","tickSize":4,"labelPadding":7,"labelFontSize":11,"labelFlush":false,"grid":false,"title":null}},
     "y":{"field":"v","type":"quantitative","scale":{"domain":[-2.9,20.7],"nice":false,"zero":false},"axis":{"values":[0,5,10,15,20],"offset":10,"grid":true,"tickSize":4,"labelAngle":270,"labelAlign":"center","labelBaseline":"bottom","labelPadding":3,"labelFontSize":11,"title":"VABS Age Equivalents","titleFontSize":13.5,"titlePadding":6}}},
    "layer":[
     {"data":{"name":"kids"},"transform":[{"filter":{"field":"g","oneOf":["YW","YB"]}}],"mark":{"type":"line","color":"#1a476f","strokeWidth":2.4},"encoding":{"detail":{"field":"i","type":"nominal"}}},
     {"data":{"name":"kids"},"transform":[{"filter":{"field":"g","oneOf":["YW","YB"]}}],"mark":{"type":"circle","color":"#1a476f","opacity":1,"size":50}},
     {"data":{"name":"fit"},"transform":[{"filter":{"field":"g","equal":"Y"}}],"mark":{"type":"area","color":"#c0c0c0","opacity":0.9},"encoding":{"y":{"field":"lo","type":"quantitative","title":null},"y2":{"field":"hi"}}},
     {"data":{"name":"fit"},"transform":[{"filter":{"field":"g","equal":"Y"}}],"mark":{"type":"line","color":"#90353b","strokeWidth":1.2}}
    ]},
   {"width":150,"height":260,"view":{"fill":"white","stroke":null},
    "encoding":{"x":{"field":"a","type":"quantitative","scale":{"domain":[-1.8,32.3],"nice":false,"zero":false},"axis":{"values":[0,10,20,30],"format":".2f","tickSize":4,"labelPadding":7,"labelFontSize":11,"labelFlush":false,"grid":false,"title":"Age","titleFontSize":14,"titleX":59,"titlePadding":6.5}},
     "y":{"field":"v","type":"quantitative","scale":{"domain":[-2.9,20.7],"nice":false,"zero":false},"axis":{"values":[0,5,10,15,20],"grid":true,"domain":false,"ticks":false,"labels":false,"title":null}}},
    "layer":[
     {"data":{"name":"kids"},"transform":[{"filter":{"field":"g","equal":"MW"}}],"mark":{"type":"line","color":"#1a476f","strokeWidth":2.0},"encoding":{"detail":{"field":"i","type":"nominal"}}},
     {"data":{"name":"kids"},"transform":[{"filter":{"field":"g","equal":"MW"}}],"mark":{"type":"circle","color":"#1a476f","opacity":1,"size":45}},
     {"data":{"name":"fit"},"transform":[{"filter":{"field":"g","equal":"M"}}],"mark":{"type":"area","color":"#c0c0c0","opacity":0.9},"encoding":{"y":{"field":"lo","type":"quantitative","title":null},"y2":{"field":"hi"}}},
     {"data":{"name":"fit"},"transform":[{"filter":{"field":"g","equal":"M"}}],"mark":{"type":"line","color":"#90353b","strokeWidth":1.2}},
     {"data":{"name":"leg"},"mark":{"type":"point","filled":false,"opacity":0,"size":100},
      "encoding":{
       "shape":{"field":"k","type":"nominal","scale":{"domain":["Linear prediction, fixed portion","95% CI","Proband Birth Order"],"range":["M-5,0H5M0.7,0A0.7,0.7,0,1,1,-0.7,0A0.7,0.7,0,1,1,0.7,0M0.45,0A0.45,0.45,0,1,1,-0.45,0A0.45,0.45,0,1,1,0.45,0M0.2,0A0.2,0.2,0,1,1,-0.2,0A0.2,0.2,0,1,1,0.2,0","M-5.2,-1.25H5.2M-5.2,-1H5.2M-5.2,-0.75H5.2M-5.2,-0.5H5.2M-5.2,-0.25H5.2M-5.2,0H5.2M-5.2,0.25H5.2M-5.2,0.5H5.2M-5.2,0.75H5.2M-5.2,1H5.2M-5.2,1.25H5.2","M-5,0H5"]},
        "legend":{"orient":"none","legendX":-138,"legendY":308,"direction":"horizontal","columns":2,"title":null,"padding":6.5,"fillColor":"white","strokeColor":"#000","labelFontSize":14,"labelColor":"#000","labelFont":"Liberation Sans","labelOffset":27,"columnPadding":17,"rowPadding":5.5,"symbolSize":100,"symbolStrokeWidth":1.5,"symbolOffset":20,"labelLimit":0}},
       "stroke":{"field":"k","type":"nominal","scale":{"domain":["Linear prediction, fixed portion","95% CI","Proband Birth Order"],"range":["#1a476f","#bfbfbf","#90353b"]},
        "legend":{"orient":"none","legendX":-138,"legendY":308,"direction":"horizontal","columns":2,"title":null,"padding":6.5,"fillColor":"white","strokeColor":"#000","labelFontSize":14,"labelColor":"#000","labelFont":"Liberation Sans","labelOffset":27,"columnPadding":17,"rowPadding":5.5,"symbolSize":100,"symbolStrokeWidth":1.5,"symbolOffset":20,"labelLimit":0}}}}
    ]},
   {"width":150,"height":260,"view":{"fill":"white","stroke":null},
    "encoding":{"x":{"field":"a","type":"quantitative","scale":{"domain":[-1.8,32.3],"nice":false,"zero":false},"axis":{"values":[0,10,20,30],"format":".2f","tickSize":4,"labelPadding":7,"labelFontSize":11,"labelFlush":false,"grid":false,"title":null}},
     "y":{"field":"v","type":"quantitative","scale":{"domain":[-2.9,20.7],"nice":false,"zero":false},"axis":{"values":[0,5,10,15,20],"grid":true,"domain":false,"ticks":false,"labels":false,"title":null}}},
    "layer":[
     {"data":{"name":"kids"},"transform":[{"filter":{"field":"g","oneOf":["OW","OB"]}}],"mark":{"type":"line","color":"#1a476f","strokeWidth":2.0},"encoding":{"detail":{"field":"i","type":"nominal"}}},
     {"data":{"name":"kids"},"transform":[{"filter":{"field":"g","oneOf":["OW","OB"]}}],"mark":{"type":"circle","color":"#1a476f","opacity":1,"size":45}},
     {"data":{"name":"fit"},"transform":[{"filter":{"field":"g","equal":"O"}}],"mark":{"type":"area","color":"#c0c0c0","opacity":0.9},"encoding":{"y":{"field":"lo","type":"quantitative","title":null},"y2":{"field":"hi"}}},
     {"data":{"name":"fit"},"transform":[{"filter":{"field":"g","equal":"O"}}],"mark":{"type":"line","color":"#90353b","strokeWidth":1.2}}
    ]}
  ]},
 {"width":85,"height":403,"view":{"fill":"white","stroke":null},"data":{"values":[{"t":"b)"}]},"mark":{"type":"text","font":"Liberation Serif","fontSize":22,"color":"#000","dx":18,"dy":190},"encoding":{"text":{"field":"t"}}},
 {"columns":3,"align":"each","bounds":"flush","spacing":{"row":1,"column":9},
  "resolve":{"scale":{"stroke":"independent","shape":"independent"}},
  "concat":[
   {"width":45,"height":31,"data":{"values":[]},"mark":"point"},
   {"width":235,"height":31,"data":{"values":[]},"mark":"point"},
   {"width":236,"height":31,"data":{"values":[]},"mark":"point"},
   {"width":45,"height":16,"data":{"values":[]},"mark":"point"},
   {"width":235,"height":16,"view":{"fill":"#d9e5ea","stroke":null},"data":{"values":[{"h":"Youngest Child, White"}]},"mark":{"type":"text","fontSize":12,"color":"#111"},"encoding":{"text":{"field":"h"}}},
   {"width":236,"height":16,"view":{"fill":"#d9e5ea","stroke":null},"data":{"values":[{"h":"Youngest Child, Black"}]},"mark":{"type":"text","fontSize":12,"color":"#111"},"encoding":{"text":{"field":"h"}}},
   {"width":45,"height":66,"data":{"values":[]},"mark":"point"},
   {"width":235,"height":66,"view":{"fill":"white","stroke":null},
    "encoding":{"x":{"field":"a","type":"quantitative","scale":{"domain":[-0.96,31.2],"nice":false,"zero":false},"axis":null},
     "y":{"field":"v","type":"quantitative","scale":{"domain":[-5.5,23],"nice":false,"zero":false},"axis":{"values":[0,10,20],"grid":true,"tickSize":4,"labelAngle":270,"labelAlign":"center","labelBaseline":"bottom","labelPadding":5,"labelFontSize":10.5,"title":null}}},
    "layer":[
     {"data":{"name":"kids"},"transform":[{"filter":{"field":"g","equal":"YW"}}],"mark":{"type":"line","color":"#1a476f","strokeWidth":1.3},"encoding":{"detail":{"field":"i","type":"nominal"}}},
     {"data":{"name":"kids"},"transform":[{"filter":{"field":"g","equal":"YW"}}],"mark":{"type":"circle","color":"#1a476f","opacity":1,"size":35}},
     {"data":{"name":"fit"},"transform":[{"filter":{"field":"g","equal":"YW"}}],"mark":{"type":"area","color":"#c0c0c0","opacity":0.9},"encoding":{"y":{"field":"lo","type":"quantitative","title":null},"y2":{"field":"hi"}}},
     {"data":{"name":"fit"},"transform":[{"filter":{"field":"g","equal":"YW"}}],"mark":{"type":"line","color":"#90353b","strokeWidth":1.2}}
    ]},
   {"width":236,"height":66,"view":{"fill":"white","stroke":null},
    "encoding":{"x":{"field":"a","type":"quantitative","scale":{"domain":[-0.96,31.2],"nice":false,"zero":false},"axis":null},
     "y":{"field":"v","type":"quantitative","scale":{"domain":[-5.5,23],"nice":false,"zero":false},"axis":{"values":[0,10,20],"grid":true,"domain":false,"ticks":false,"labels":false,"title":null}}},
    "layer":[
     {"data":{"name":"kids"},"transform":[{"filter":{"field":"g","equal":"YB"}}],"mark":{"type":"line","color":"#1a476f","strokeWidth":1.3},"encoding":{"detail":{"field":"i","type":"nominal"}}},
     {"data":{"name":"kids"},"transform":[{"filter":{"field":"g","equal":"YB"}}],"mark":{"type":"circle","color":"#1a476f","opacity":1,"size":35}},
     {"data":{"name":"fit"},"transform":[{"filter":{"field":"g","equal":"YB"}}],"mark":{"type":"area","color":"#c0c0c0","opacity":0.9},"encoding":{"y":{"field":"lo","type":"quantitative","title":null},"y2":{"field":"hi"}}},
     {"data":{"name":"fit"},"transform":[{"filter":{"field":"g","equal":"YB"}}],"mark":{"type":"line","color":"#90353b","strokeWidth":1.2}}
    ]},
   {"width":45,"height":8.5,"data":{"values":[]},"mark":"point"},
   {"width":235,"height":8.5,"data":{"values":[]},"mark":"point"},
   {"width":236,"height":8.5,"data":{"values":[]},"mark":"point"},
   {"width":45,"height":16,"data":{"values":[]},"mark":"point"},
   {"width":235,"height":16,"view":{"fill":"#d9e5ea","stroke":null},"data":{"values":[{"h":"Middle Child, White"}]},"mark":{"type":"text","fontSize":12,"color":"#111"},"encoding":{"text":{"field":"h"}}},
   {"width":236,"height":16,"view":{"fill":"#d9e5ea","stroke":null},"data":{"values":[{"h":"Middle Child, Black"}]},"mark":{"type":"text","fontSize":12,"color":"#111"},"encoding":{"text":{"field":"h"}}},
   {"width":45,"height":66,"data":{"values":[]},"mark":"point"},
   {"width":235,"height":66,"view":{"fill":"white","stroke":null},
    "encoding":{"x":{"field":"a","type":"quantitative","scale":{"domain":[-0.96,31.2],"nice":false,"zero":false},"axis":null},
     "y":{"field":"v","type":"quantitative","scale":{"domain":[-5.5,23],"nice":false,"zero":false},"axis":{"values":[0,10,20],"grid":true,"tickSize":4,"labelAngle":270,"labelAlign":"center","labelBaseline":"bottom","labelPadding":5,"labelFontSize":10.5,"title":"VABS Age Equivalents","titleFontSize":13.5,"titlePadding":4}}},
    "layer":[
     {"data":{"name":"kids"},"transform":[{"filter":{"field":"g","equal":"MW"}}],"mark":{"type":"line","color":"#1a476f","strokeWidth":1.3},"encoding":{"detail":{"field":"i","type":"nominal"}}},
     {"data":{"name":"kids"},"transform":[{"filter":{"field":"g","equal":"MW"}}],"mark":{"type":"circle","color":"#1a476f","opacity":1,"size":35}},
     {"data":{"name":"fit"},"transform":[{"filter":{"field":"g","equal":"MW"}}],"mark":{"type":"area","color":"#c0c0c0","opacity":0.9},"encoding":{"y":{"field":"lo","type":"quantitative","title":null},"y2":{"field":"hi"}}},
     {"data":{"name":"fit"},"transform":[{"filter":{"field":"g","equal":"MW"}}],"mark":{"type":"line","color":"#90353b","strokeWidth":1.2}}
    ]},
   {"width":236,"height":66,"view":{"fill":"white","stroke":null},
    "encoding":{"x":{"field":"a","type":"quantitative","scale":{"domain":[-0.96,31.2],"nice":false,"zero":false},"axis":null},
     "y":{"field":"v","type":"quantitative","scale":{"domain":[-5.5,23],"nice":false,"zero":false},"axis":{"values":[0,10,20],"grid":true,"domain":false,"ticks":false,"labels":false,"title":null}}},
    "layer":[
     {"data":{"name":"kids"},"transform":[{"filter":{"field":"g","equal":"MB"}}],"mark":{"type":"line","color":"#1a476f","strokeWidth":1.3},"encoding":{"detail":{"field":"i","type":"nominal"}}},
     {"data":{"name":"kids"},"transform":[{"filter":{"field":"g","equal":"MB"}}],"mark":{"type":"circle","color":"#1a476f","opacity":1,"size":35}},
     {"data":{"name":"fit"},"transform":[{"filter":{"field":"g","equal":"MB"}}],"mark":{"type":"area","color":"#c0c0c0","opacity":0.9},"encoding":{"y":{"field":"lo","type":"quantitative","title":null},"y2":{"field":"hi"}}},
     {"data":{"name":"fit"},"transform":[{"filter":{"field":"g","equal":"MB"}}],"mark":{"type":"line","color":"#90353b","strokeWidth":1.2}}
    ]},
   {"width":45,"height":8.5,"data":{"values":[]},"mark":"point"},
   {"width":235,"height":8.5,"data":{"values":[]},"mark":"point"},
   {"width":236,"height":8.5,"data":{"values":[]},"mark":"point"},
   {"width":45,"height":16,"data":{"values":[]},"mark":"point"},
   {"width":235,"height":16,"view":{"fill":"#d9e5ea","stroke":null},"data":{"values":[{"h":"Oldest Child, White"}]},"mark":{"type":"text","fontSize":12,"color":"#111"},"encoding":{"text":{"field":"h"}}},
   {"width":236,"height":16,"view":{"fill":"#d9e5ea","stroke":null},"data":{"values":[{"h":"Oldest Child, Black"}]},"mark":{"type":"text","fontSize":12,"color":"#111"},"encoding":{"text":{"field":"h"}}},
   {"width":45,"height":66,"data":{"values":[]},"mark":"point"},
   {"width":235,"height":66,"view":{"fill":"white","stroke":null},
    "encoding":{"x":{"field":"a","type":"quantitative","scale":{"domain":[-0.96,31.2],"nice":false,"zero":false},"axis":{"values":[0,10,20,30],"format":".2f","tickSize":4,"labelPadding":5,"labelFontSize":11.5,"labelFlush":false,"title":"Age","titleFontSize":14,"titleX":229,"titlePadding":6}},
     "y":{"field":"v","type":"quantitative","scale":{"domain":[-5.5,23],"nice":false,"zero":false},"axis":{"values":[0,10,20],"grid":true,"tickSize":4,"labelAngle":270,"labelAlign":"center","labelBaseline":"bottom","labelPadding":5,"labelFontSize":10.5,"title":null}}},
    "layer":[
     {"data":{"name":"kids"},"transform":[{"filter":{"field":"g","equal":"OW"}}],"mark":{"type":"line","color":"#1a476f","strokeWidth":1.3},"encoding":{"detail":{"field":"i","type":"nominal"}}},
     {"data":{"name":"kids"},"transform":[{"filter":{"field":"g","equal":"OW"}}],"mark":{"type":"circle","color":"#1a476f","opacity":1,"size":35}},
     {"data":{"name":"fit"},"transform":[{"filter":{"field":"g","equal":"OW"}}],"mark":{"type":"area","color":"#c0c0c0","opacity":0.9},"encoding":{"y":{"field":"lo","type":"quantitative","title":null},"y2":{"field":"hi"}}},
     {"data":{"name":"fit"},"transform":[{"filter":{"field":"g","equal":"OW"}}],"mark":{"type":"line","color":"#90353b","strokeWidth":1.2}},
     {"data":{"name":"leg"},"mark":{"type":"point","filled":false,"opacity":0,"size":100},
      "encoding":{
       "shape":{"field":"k","type":"nominal","scale":{"domain":["Linear prediction, fixed portion","95% CI","Proband Birth Order"],"range":["M-5,0H5M0.7,0A0.7,0.7,0,1,1,-0.7,0A0.7,0.7,0,1,1,0.7,0M0.45,0A0.45,0.45,0,1,1,-0.45,0A0.45,0.45,0,1,1,0.45,0M0.2,0A0.2,0.2,0,1,1,-0.2,0A0.2,0.2,0,1,1,0.2,0","M-5.2,-1.25H5.2M-5.2,-1H5.2M-5.2,-0.75H5.2M-5.2,-0.5H5.2M-5.2,-0.25H5.2M-5.2,0H5.2M-5.2,0.25H5.2M-5.2,0.5H5.2M-5.2,0.75H5.2M-5.2,1H5.2M-5.2,1.25H5.2","M-5,0H5"]},
        "legend":{"orient":"none","legendX":34,"legendY":112,"direction":"horizontal","columns":2,"title":null,"padding":6.5,"fillColor":"white","strokeColor":"#000","labelFontSize":14,"labelColor":"#000","labelFont":"Liberation Sans","labelOffset":26,"columnPadding":19,"rowPadding":5.5,"symbolSize":100,"symbolStrokeWidth":1.5,"symbolOffset":20,"labelLimit":0}},
       "stroke":{"field":"k","type":"nominal","scale":{"domain":["Linear prediction, fixed portion","95% CI","Proband Birth Order"],"range":["#1a476f","#bfbfbf","#90353b"]},
        "legend":{"orient":"none","legendX":34,"legendY":112,"direction":"horizontal","columns":2,"title":null,"padding":6.5,"fillColor":"white","strokeColor":"#000","labelFontSize":14,"labelColor":"#000","labelFont":"Liberation Sans","labelOffset":26,"columnPadding":19,"rowPadding":5.5,"symbolSize":100,"symbolStrokeWidth":1.5,"symbolOffset":20,"labelLimit":0}}}}
    ]},
   {"width":236,"height":66,"view":{"fill":"white","stroke":null},
    "encoding":{"x":{"field":"a","type":"quantitative","scale":{"domain":[-0.96,31.2],"nice":false,"zero":false},"axis":{"values":[0,10,20,30],"format":".2f","tickSize":4,"labelPadding":5,"labelFontSize":11.5,"labelFlush":false,"title":null}},
     "y":{"field":"v","type":"quantitative","scale":{"domain":[-5.5,23],"nice":false,"zero":false},"axis":{"values":[0,10,20],"grid":true,"domain":false,"ticks":false,"labels":false,"title":null}}},
    "layer":[
     {"data":{"name":"kids"},"transform":[{"filter":{"field":"g","equal":"OB"}}],"mark":{"type":"line","color":"#1a476f","strokeWidth":1.3},"encoding":{"detail":{"field":"i","type":"nominal"}}},
     {"data":{"name":"kids"},"transform":[{"filter":{"field":"g","equal":"OB"}}],"mark":{"type":"circle","color":"#1a476f","opacity":1,"size":35}},
     {"data":{"name":"fit"},"transform":[{"filter":{"field":"g","equal":"OB"}}],"mark":{"type":"area","color":"#c0c0c0","opacity":0.9},"encoding":{"y":{"field":"lo","type":"quantitative","title":null},"y2":{"field":"hi"}}},
     {"data":{"name":"fit"},"transform":[{"filter":{"field":"g","equal":"OB"}}],"mark":{"type":"line","color":"#90353b","strokeWidth":1.2}}
    ]}
  ]}
 ]}
]
}
